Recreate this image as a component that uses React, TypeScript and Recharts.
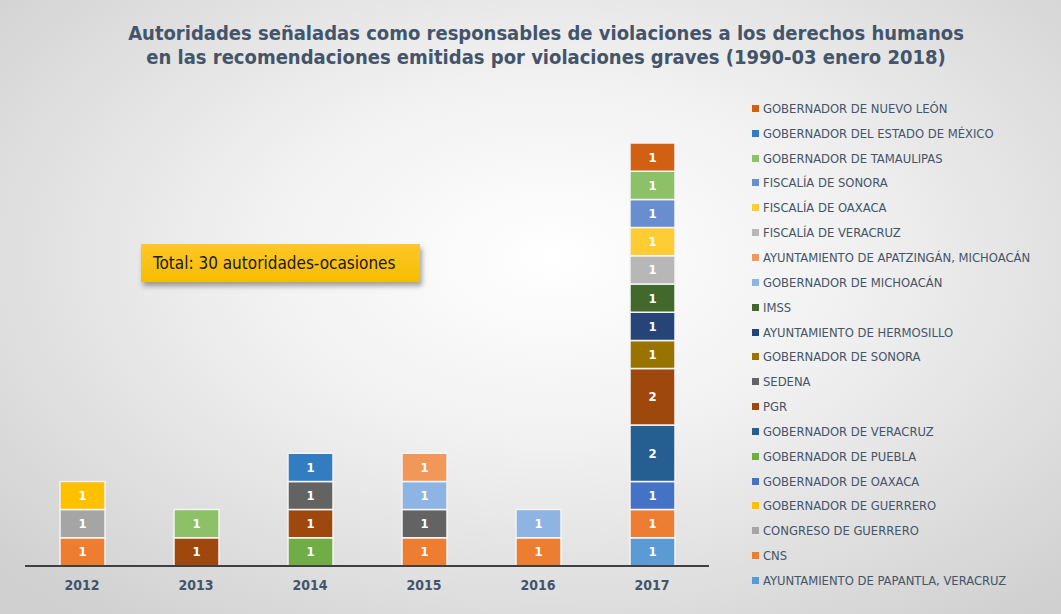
import React from 'react';
import { BarChart, Bar, XAxis, YAxis, LabelList } from 'recharts';

const years = ['2012', '2013', '2014', '2015', '2016', '2017'];

// series listed bottom-to-top of the stack
const seriesNames = [
  'AYUNTAMIENTO DE PAPANTLA, VERACRUZ',
  'CNS',
  'CONGRESO DE GUERRERO',
  'GOBERNADOR DE GUERRERO',
  'GOBERNADOR DE OAXACA',
  'GOBERNADOR DE PUEBLA',
  'GOBERNADOR DE VERACRUZ',
  'PGR',
  'SEDENA',
  'GOBERNADOR DE SONORA',
  'AYUNTAMIENTO DE HERMOSILLO',
  'IMSS',
  'GOBERNADOR DE MICHOACÁN',
  'AYUNTAMIENTO DE APATZINGÁN, MICHOACÁN',
  'FISCALÍA DE VERACRUZ',
  'FISCALÍA DE OAXACA',
  'FISCALÍA DE SONORA',
  'GOBERNADOR DE TAMAULIPAS',
  'GOBERNADOR DEL ESTADO DE MÉXICO',
  'GOBERNADOR DE NUEVO LEÓN',
];

const seriesColors = [
  '#5B9BD5', '#ED7D31', '#A5A5A5', '#FFC000', '#4472C4',
  '#70AD47', '#255E91', '#9E480E', '#636363', '#997300',
  '#264478', '#43682B', '#8EB4E3', '#F1975A', '#B7B7B7',
  '#FFCD33', '#698ED0', '#8CC168', '#327DC2', '#D26012',
];

// values per year (2012..2017)
const seriesValues = [
  [0, 0, 0, 0, 0, 1],
  [1, 0, 0, 1, 1, 1],
  [1, 0, 0, 0, 0, 0],
  [1, 0, 0, 0, 0, 0],
  [0, 0, 0, 0, 0, 1],
  [0, 0, 1, 0, 0, 0],
  [0, 0, 0, 0, 0, 2],
  [0, 1, 1, 0, 0, 2],
  [0, 0, 1, 1, 0, 0],
  [0, 0, 0, 0, 0, 1],
  [0, 0, 0, 0, 0, 1],
  [0, 0, 0, 0, 0, 1],
  [0, 0, 0, 1, 1, 0],
  [0, 0, 0, 1, 0, 0],
  [0, 0, 0, 0, 0, 1],
  [0, 0, 0, 0, 0, 1],
  [0, 0, 0, 0, 0, 1],
  [0, 1, 0, 0, 0, 1],
  [0, 0, 1, 0, 0, 0],
  [0, 0, 0, 0, 0, 1],
];

const tableData = years.map((year, i) => {
  const row: Record<string, string | number> = { year };
  seriesNames.forEach((name, s) => {
    row[`s${s}`] = seriesValues[s][i];
  });
  return row;
});

const titleColor = '#44546A';
const font = '"DejaVu Sans Condensed", "DejaVu Sans", sans-serif';

const SegmentLabel = (props: any) => {
  const { x, y, width, height, value } = props;
  if (!value) return null;
  return (
    <text
      x={x + width / 2}
      y={y + height / 2}
      fill="#ffffff"
      fontSize={13}
      fontWeight="bold"
      fontFamily={font}
      textAnchor="middle"
      dominantBaseline="central"
    >
      {value}
    </text>
  );
};

export default function App() {
  return (
    <div
      style={{
        position: 'absolute',
        left: 0,
        top: 0,
        width: 1061,
        height: 614,
        overflow: 'hidden',
        fontFamily: font,
        background: 'radial-gradient(ellipse 70% 75% at 52% 42%, #ffffff 0%, #f1f1f1 40%, #d0d0d0 100%)',
      }}
    >
      <div
        style={{
          position: 'absolute',
          top: 21,
          left: 0,
          width: 1092,
          textAlign: 'center',
          color: titleColor,
          fontWeight: 'bold',
          fontSize: 20,
          lineHeight: '24px',
        }}
      >
        Autoridades señaladas como responsables de violaciones a los derechos humanos
        <br />
        en las recomendaciones emitidas por violaciones graves (1990-03 enero 2018)
      </div>

      <div style={{ position: 'absolute', left: 0, top: 0 }}>
        <BarChart
          width={740}
          height={614}
          data={tableData}
          margin={{ top: 143, right: 31, bottom: 18, left: 25 }}
          barSize={45}
        >
          <XAxis
            dataKey="year"
            axisLine={{ stroke: '#404040', strokeWidth: 2 }}
            tickLine={false}
            height={30}
            tick={{ fill: titleColor, fontSize: 14, fontWeight: 'bold', fontFamily: font }}
            tickMargin={8}
          />
          <YAxis hide width={0} domain={[0, 15]} />
          {seriesNames.map((name, s) => (
            <Bar
              key={name}
              dataKey={`s${s}`}
              name={name}
              stackId="a"
              fill={seriesColors[s]}
              stroke="#f4f4f4"
              strokeWidth={1.5}
              isAnimationActive={false}
            >
              <LabelList dataKey={`s${s}`} content={<SegmentLabel />} />
            </Bar>
          ))}
        </BarChart>
      </div>

      <div
        style={{
          position: 'absolute',
          left: 141,
          top: 244,
          width: 279,
          height: 38,
          background: 'linear-gradient(#ffc729, #f5bd00)',
          boxShadow: '2px 4px 5px rgba(0,0,0,0.35)',
          color: '#1a1a1a',
          fontSize: 17,
          lineHeight: '38px',
          paddingLeft: 12,
          boxSizing: 'border-box',
        }}
      >
        Total: 30 autoridades-ocasiones
      </div>

      <div style={{ position: 'absolute', left: 752, top: 96 }}>
        {seriesNames
          .map((name, s) => ({ name, color: seriesColors[s] }))
          .reverse()
          .map((item) => (
            <div
              key={item.name}
              style={{
                display: 'flex',
                alignItems: 'center',
                height: 24.85,
                fontSize: 12.9,
                color: titleColor,
                whiteSpace: 'nowrap',
              }}
            >
              <span
                style={{
                  display: 'inline-block',
                  width: 7,
                  height: 7,
                  background: item.color,
                  marginRight: 4,
                }}
              />
              {item.name}
            </div>
          ))}
      </div>
    </div>
  );
}
